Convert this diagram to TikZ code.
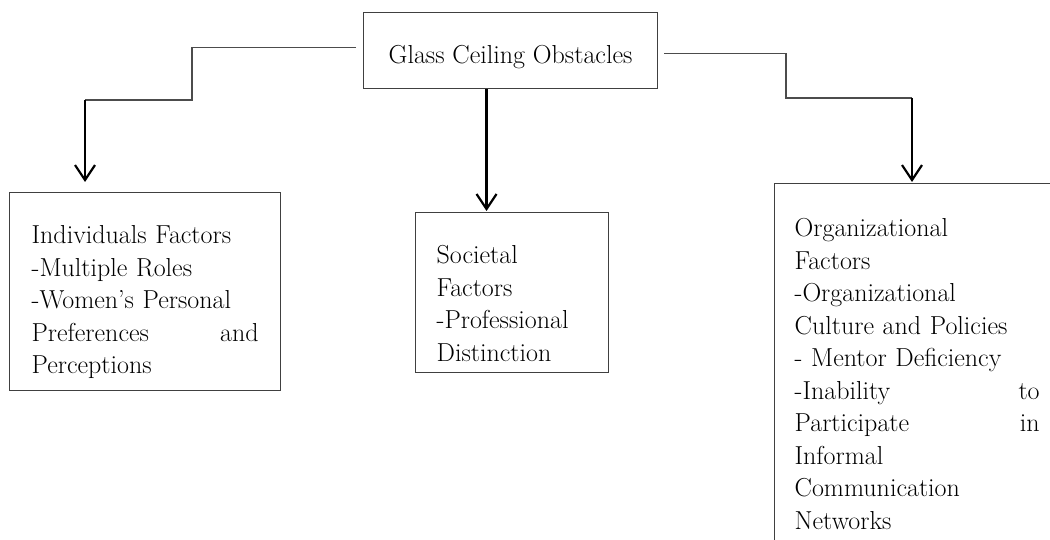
\documentclass[tikz,border=0pt]{standalone}
\usetikzlibrary{arrows.meta}
\begin{document}
\begin{tikzpicture}[x=1pt,y=-1pt,
        box/.style={draw=black!75, line width=1.3pt, anchor=north west, inner ysep=0pt,
            align=left, font=\fontsize{26}{32.5}\selectfont},
        elbow/.style={draw=black!70, line width=1.2pt},
        down/.style={draw=black, line width=2.2pt, -{Straight Barb[length=15pt,width=20pt]}}]
        \useasboundingbox (0,0) rectangle (1050,540);
        \clip (0,0) rectangle (1050,540);
        \node[box, inner xsep=25pt, text height=51pt, text depth=25pt] (glass) at (363,12) {Glass Ceiling Obstacles};
        \node[box, inner xsep=22pt, text width=227pt, text height=51pt, text depth=147pt] (ind) at (9,192)
            {Individuals Factors\\ -Multiple Roles\\ -Women's Personal\\ Preferences \hfill and\\ Perceptions};
        \node[box, inner xsep=21pt, text width=151pt, text height=51pt, text depth=109pt] (soc) at (415,212)
            {Societal\\ Factors\\ -Professional\\ Distinction};
        \node[box, inner xsep=20pt, text width=245pt, text height=53pt, text depth=400pt] (org) at (774,183)
            {Organizational\\ Factors\\ -Organizational\\ Culture and Policies\\ - Mentor Deficiency\\
             -Inability \hfill to\\ Participate \hfill in\\ Informal\\ Communication\\ Networks};
        \coordinate (lstep) at (192,100);
        \coordinate (ldrop) at (85,100);
        \coordinate (rstep) at (786,98);
        \coordinate (rdrop) at (912,98);
        \draw[elbow] ([shift={(-7,-3)}]glass.west) -| (lstep) -- (ldrop);
        \draw[down, shorten >=10pt] (ldrop) -- (ldrop |- ind.north);
        \draw[down, shorten >=1pt] ([xshift=-24pt]glass.south) -- ([xshift=-24pt]glass.south |- soc.north);
        \draw[elbow] ([shift={(6,3)}]glass.east) -| (rstep) -- (rdrop);
        \draw[down, shorten >=1pt] (rdrop) -- (rdrop |- org.north);
    \end{tikzpicture}
\end{document}
